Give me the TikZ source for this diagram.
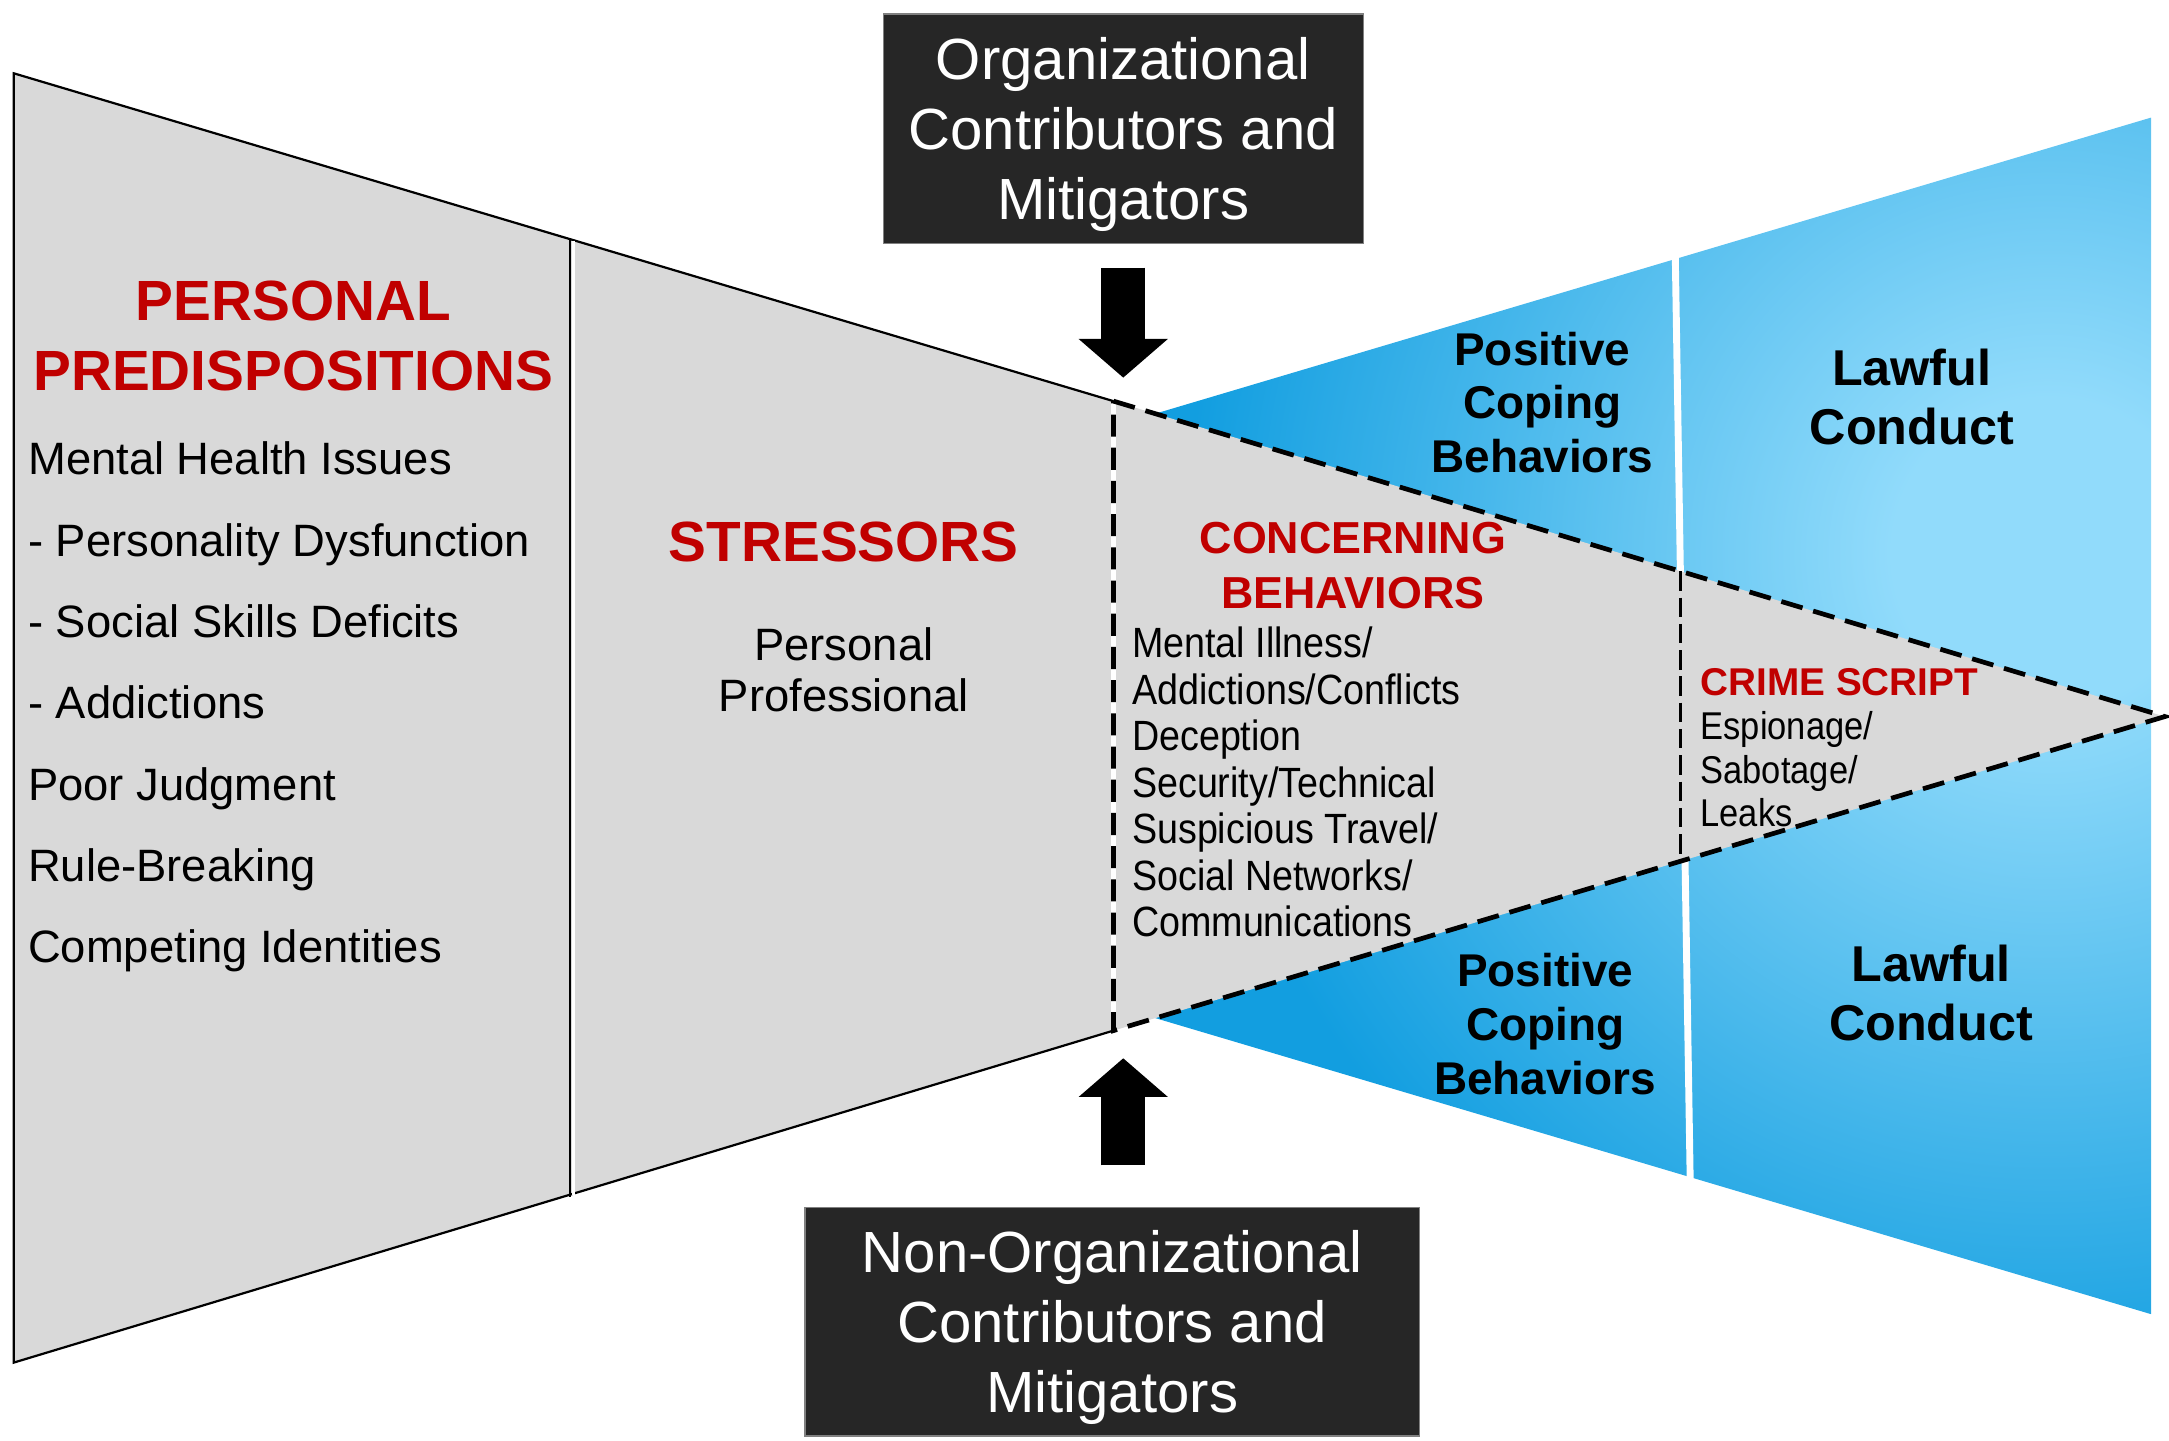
\documentclass[tikz,border=0pt]{standalone}
\usepackage{fontspec}
\setmainfont{Liberation Sans}
\newfontfamily\narrowsf{Liberation Sans}[FakeStretch=0.89]
\usetikzlibrary{arrows.meta}

\definecolor{panelgray}{RGB}{217,217,217}
\definecolor{alertred}{RGB}{192,0,0}
\definecolor{boxblack}{RGB}{38,38,38}
\definecolor{skylite}{RGB}{145,219,251}
\definecolor{skydeep}{RGB}{18,158,224}
\pgfdeclareradialshading{skyglow}{\pgfpoint{0bp}{0bp}}{color(0bp)=(skylite); color(3.5bp)=(skylite); color(19.5bp)=(skydeep); color(50bp)=(skydeep)}

\begin{document}
\begin{tikzpicture}[x=0.5pt, y=-0.5pt,
	title/.style={text=alertred, font=\bfseries\fontsize{20.5}{25.5}\selectfont, align=center, inner sep=0},
	plain/.style={font=\fontsize{16.4}{29.4}\selectfont, align=left, inner sep=0},
	narrow/.style={font=\narrowsf\fontsize{15.3}{16.8}\selectfont, align=left, inner sep=0},
	outcome/.style={font=\bfseries\fontsize{16.6}{19.5}\selectfont, align=center, inner sep=0},
	lawful/.style={font=\bfseries\fontsize{18.2}{21.5}\selectfont, align=center, inner sep=0},
	factorbox/.style={fill=boxblack, draw=gray, line width=0.5pt, text=white, text depth=0pt, font=\fontsize{21}{25.25}\selectfont, align=center},
	blockarrow/.style={line width=16pt, -{Triangle[width=31.5pt, length=14pt]}},
	boundary/.style={line width=1.7pt, dash pattern=on 8pt off 4pt}]
					\useasboundingbox (0,0) rectangle (1568,1041);
					
					\coordinate[](topleft) at (10,53) ;
					\coordinate[](botleft) at (10,985) ;
					\coordinate[](topjoint) at (805,290) ;
					\coordinate[](botjoint) at (805,745) ;
					\coordinate[](tip) at (1565,518) ;
					
					\begin{scope}
					\clip (805,308) -- (1555,85) -- (1555,950) -- (805,727) -- cycle;
					\shade[shading=skyglow] (1480,400) circle (800);
					\end{scope}
					\draw[white, line width=2.5pt] (1211,180) -- (1222,862);
					
					\fill[panelgray] (topleft) -- (topjoint) -- (tip) -- (botjoint) -- (botleft) -- cycle;
					\draw[line width=0.8pt] (topjoint) -- (topleft) -- (botleft) -- (botjoint);
					\draw[white, line width=1pt] (414.5,174) -- (414.5,864);
					\draw[line width=0.8pt] (412,173) -- (412,865);
					\draw[white, line width=1.7pt] (topjoint) -- (botjoint);
					\draw[boundary] (topjoint) -- (tip) -- (botjoint) -- cycle;
					\draw[line width=1pt, dash pattern=on 7pt off 2.5pt] (1215,413) -- (1215,622);
					
					\node[title] (personal) at (212,243) {PERSONAL\\PREDISPOSITIONS};
					\node[plain, anchor=north west] (traits) at (20,319) {Mental Health Issues\\- Personality Dysfunction\\- Social Skills Deficits\\- Addictions\\Poor Judgment\\Rule-Breaking\\Competing Identities};
					
					\node[title] (stressors) at (610,392) {STRESSORS};
					\node[plain, align=center, font=\fontsize{16.4}{18.5}\selectfont] (sources) at (610,484) {Personal\\Professional};
					
					\node[title, font=\bfseries\fontsize{16.2}{20}\selectfont] (concerning) at (978,409) {CONCERNING\\BEHAVIORS};
					\node[narrow, anchor=north west] (indicators) at (818,453) {Mental Illness/\\Addictions/Conflicts\\Deception\\Security/Technical\\Suspicious Travel/\\Social Networks/\\Communications};
					
					\node[title, font=\bfseries\fontsize{14}{16}\selectfont, anchor=west] (crime) at (1229,493) {CRIME SCRIPT};
					\node[narrow, font=\narrowsf\fontsize{14}{15.75}\selectfont, anchor=north west] (acts) at (1229,514) {Espionage/\\Sabotage/\\Leaks};
					
					\node[outcome] (copeup) at (1115,291) {Positive\\Coping\\Behaviors};
					\node[outcome] (copedown) at (1117,740) {Positive\\Coping\\Behaviors};
					\node[lawful] (lawfulup) at (1382,287) {Lawful\\Conduct};
					\node[lawful] (lawfuldown) at (1396,718) {Lawful\\Conduct};
					
					\node[factorbox, minimum width=173.5pt, minimum height=83pt] (orgbox) at (812,93) {Organizational\\Contributors and\\Mitigators};
					\node[factorbox, minimum width=222pt, minimum height=82.5pt] (nonorgbox) at (804,955.5) {Non-Organizational\\Contributors and\\Mitigators};
					
					\coordinate[](orgtip) at (812,273) ;
					\coordinate[](nonorgtip) at (812,765) ;
					\draw[blockarrow, shorten <=8.5pt] (orgbox) -- (orgtip);
					\draw[blockarrow, shorten <=15pt] (nonorgbox.north -| nonorgtip) -- (nonorgtip);
					\end{tikzpicture}
\end{document}
